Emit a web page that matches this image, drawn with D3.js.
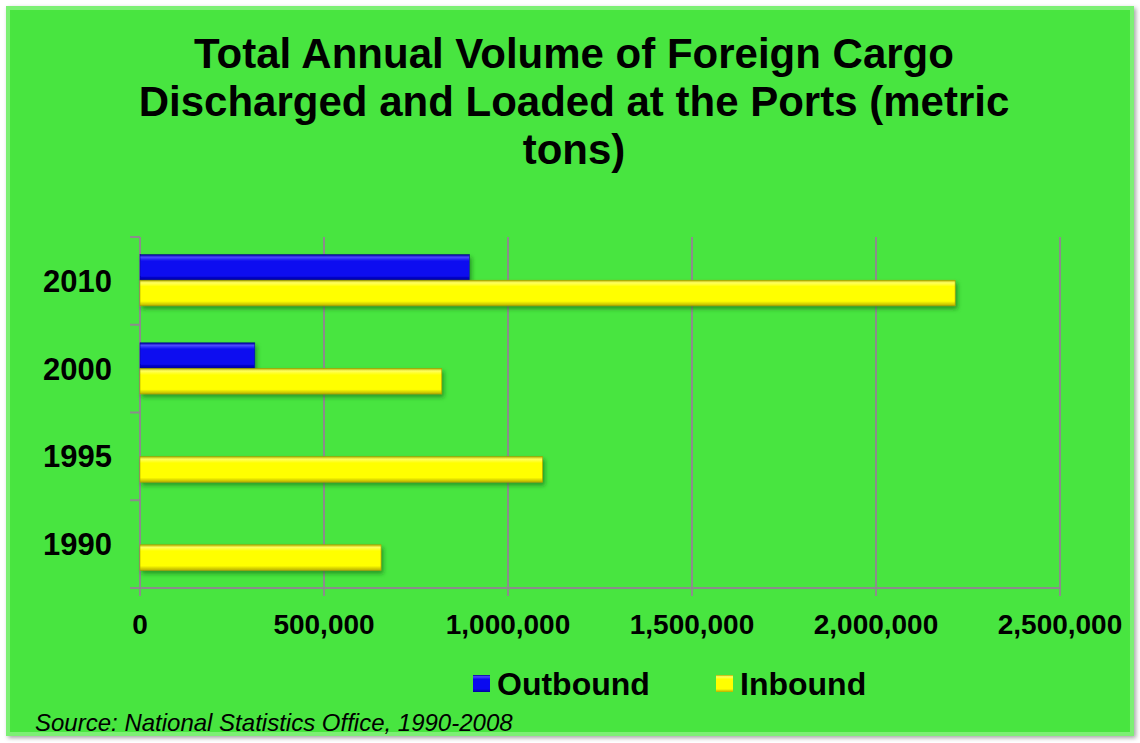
<!DOCTYPE html>
<html>
<head>
<meta charset="utf-8">
<script src="https://cdn.jsdelivr.net/npm/d3@7"></script>
<style>
  body { margin: 0; background: #fff; }
  svg { display: block; font-family: "Liberation Sans", Arial, sans-serif; }
</style>
</head>
<body>
<svg id="chart" width="1140" height="743"></svg>
<script>
// chart data (top to bottom)
const years = ["2010", "2000", "1995", "1990"];
const outbound = [895000, 312000, 0, 0];
const inbound = [2215000, 820000, 1094000, 655000];
const xTicks = [0, 500000, 1000000, 1500000, 2000000, 2500000];
const seriesNames = ["Outbound", "Inbound"];
const titleLines = ["Total Annual Volume of Foreign Cargo", "Discharged and Loaded at the Ports (metric", "tons)"];

const svg = d3.select("#chart");
const defs = svg.append("defs");

// bevel-ish gradients for bars
function barGradient(id, light, mid, dark) {
  const g = defs.append("linearGradient").attr("id", id)
    .attr("x1", 0).attr("y1", 0).attr("x2", 0).attr("y2", 1);
  g.append("stop").attr("offset", "0%").attr("stop-color", dark);
  g.append("stop").attr("offset", "10%").attr("stop-color", light);
  g.append("stop").attr("offset", "25%").attr("stop-color", mid);
  g.append("stop").attr("offset", "82%").attr("stop-color", mid);
  g.append("stop").attr("offset", "100%").attr("stop-color", dark);
}
barGradient("gOut", "#4a4aff", "#0a0af0", "#00009a");
barGradient("gIn", "#ffff60", "#ffff00", "#b8b000");

const shadow = defs.append("filter").attr("id", "shadow")
  .attr("x", "-5%").attr("y", "-20%").attr("width", "115%").attr("height", "160%");
shadow.append("feDropShadow").attr("dx", 2).attr("dy", 3).attr("stdDeviation", 2)
  .attr("flood-color", "#1f7a1a").attr("flood-opacity", 0.7);

const frameShadow = defs.append("filter").attr("id", "fshadow")
  .attr("x", "-2%").attr("y", "-2%").attr("width", "104%").attr("height", "104%");
frameShadow.append("feDropShadow").attr("dx", 2).attr("dy", 2).attr("stdDeviation", 2)
  .attr("flood-color", "#000").attr("flood-opacity", 0.35);

// background frame
svg.append("rect").attr("x", 6).attr("y", 6).attr("width", 1128).attr("height", 730)
  .attr("fill", "#48e540").attr("filter", "url(#fshadow)");
svg.append("rect").attr("x", 8).attr("y", 8).attr("width", 1124).attr("height", 726)
  .attr("fill", "none").attr("stroke", "#7cf074").attr("stroke-width", 4);
svg.append("rect").attr("x", 12).attr("y", 12).attr("width", 1116).attr("height", 718)
  .attr("fill", "#48e540");

// title
svg.append("g").selectAll("text").data(titleLines).join("text")
  .attr("x", 574).attr("y", (d, i) => 68 + i * 48)
  .attr("text-anchor", "middle").attr("font-size", 42).attr("font-weight", "bold")
  .attr("fill", "#000").text(d => d);

// scales
const x = d3.scaleLinear().domain([0, 2500000]).range([140, 1060]);
const y = d3.scaleBand().domain(years).range([237, 588]).paddingInner(0.42).paddingOuter(0.2);
const ySub = d3.scaleBand().domain(seriesNames).range([0, y.bandwidth()]);

// gridlines
svg.append("g").selectAll("line").data(xTicks.slice(1)).join("line")
  .attr("x1", d => x(d)).attr("x2", d => x(d)).attr("y1", 237).attr("y2", 588)
  .attr("stroke", "#8c8c8c").attr("stroke-width", 2);

// y axis line + ticks between categories
const cats = d3.scaleBand().domain(years).range([237, 588]);
svg.append("line").attr("x1", 140).attr("x2", 140).attr("y1", 237).attr("y2", 596)
  .attr("stroke", "#8c8c8c").attr("stroke-width", 2);
svg.append("g").selectAll("line").data(years).join("line")
  .attr("x1", 130).attr("x2", 140)
  .attr("y1", d => cats(d)).attr("y2", d => cats(d))
  .attr("stroke", "#8c8c8c").attr("stroke-width", 2);
svg.append("line").attr("x1", 130).attr("x2", 1060).attr("y1", 588).attr("y2", 588)
  .attr("stroke", "#8c8c8c").attr("stroke-width", 2);
svg.append("g").selectAll("line").data(xTicks).join("line")
  .attr("x1", d => x(d)).attr("x2", d => x(d)).attr("y1", 588).attr("y2", 596)
  .attr("stroke", "#8c8c8c").attr("stroke-width", 2);

// category labels
svg.append("g").selectAll("text").data(years).join("text")
  .attr("x", 112).attr("y", d => cats(d) + cats.bandwidth() / 2 + 11)
  .attr("text-anchor", "end").attr("font-size", 31).attr("font-weight", "bold")
  .text(d => d);

// x tick labels
const fmt = d3.format(",");
svg.append("g").selectAll("text").data(xTicks).join("text")
  .attr("x", d => x(d)).attr("y", 634)
  .attr("text-anchor", "middle").attr("font-size", 28).attr("font-weight", "bold")
  .text(d => fmt(d));

// bars
const rows = years.map((yr, i) => ({ yr, vals: [outbound[i], inbound[i]] }));
const barG = svg.append("g");
rows.forEach(r => {
  r.vals.forEach((v, j) => {
    if (v <= 0) return;
    barG.append("rect")
      .attr("x", x(0)).attr("y", y(r.yr) + ySub(seriesNames[j]))
      .attr("width", x(v) - x(0)).attr("height", ySub.bandwidth())
      .attr("fill", j === 0 ? "url(#gOut)" : "url(#gIn)")
      .attr("stroke", j === 0 ? "#00008a" : "#a8a000").attr("stroke-width", 0.6)
      .attr("filter", "url(#shadow)");
  });
});

// legend
const legend = [
  { name: "Outbound", fill: "url(#gOut)", x: 473 },
  { name: "Inbound", fill: "url(#gIn)", x: 716 }
];
const lg = svg.append("g").selectAll("g").data(legend).join("g");
lg.append("rect").attr("x", d => d.x).attr("y", 675).attr("width", 17).attr("height", 17)
  .attr("fill", d => d.fill);
lg.append("text").attr("x", d => d.x + 24).attr("y", 695)
  .attr("font-size", 32).attr("font-weight", "bold").text(d => d.name);

// source
svg.append("text").attr("x", 35).attr("y", 731)
  .attr("font-size", 24).attr("font-style", "italic")
  .text("Source: National Statistics Office, 1990-2008");
</script>
</body>
</html>
